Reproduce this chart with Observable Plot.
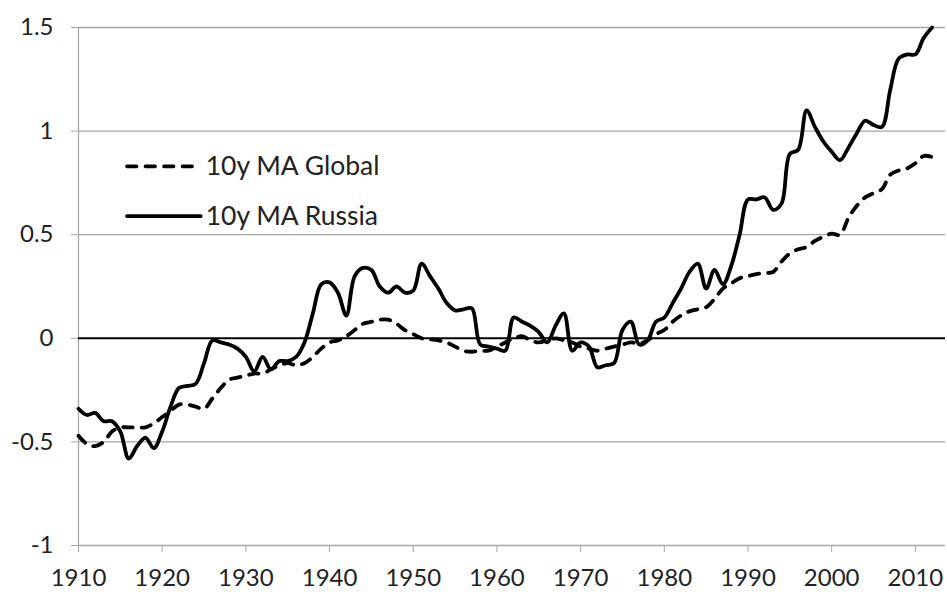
<!DOCTYPE html>
<html>
<head>
<meta charset="utf-8">
<script src="https://cdn.jsdelivr.net/npm/d3@7"></script>
<script src="https://cdn.jsdelivr.net/npm/@observablehq/plot@0.6"></script>
<style>
  html, body { margin: 0; padding: 0; background: #fff; }
  #chart { width: 947px; height: 592px; }
  #chart svg text { font-family: Lato, 'Open Sans', sans-serif; }
</style>
</head>
<body>
<div id="chart"></div>
<script>
// ---- data ----
const firstYear = 1910;
const lastYear = 2012;

const globalMA = [
  -0.47, -0.51, -0.52, -0.50, -0.45, -0.43, -0.43, -0.43, -0.43, -0.41, // 1910-1919
  -0.38, -0.35, -0.32, -0.32, -0.33, -0.34, -0.29, -0.24, -0.20, -0.19, // 1920-1929
  -0.18, -0.17, -0.17, -0.15, -0.13, -0.12, -0.13, -0.12, -0.09, -0.05, // 1930-1939
  -0.02, -0.01, 0.01, 0.04, 0.07, 0.08, 0.09, 0.09, 0.07, 0.04,         // 1940-1949
  0.02, 0.00, -0.005, -0.01, -0.02, -0.04, -0.06, -0.065, -0.06, -0.06, // 1950-1959
  -0.04, -0.02, 0.00, 0.01, -0.01, -0.02, -0.01, 0.00, -0.01, -0.02,    // 1960-1969
  -0.04, -0.05, -0.06, -0.05, -0.04, -0.03, -0.02, -0.025, -0.01, 0.02, // 1970-1979
  0.04, 0.08, 0.11, 0.13, 0.14, 0.15, 0.19, 0.24, 0.265, 0.29,          // 1980-1989
  0.30, 0.31, 0.315, 0.32, 0.37, 0.41, 0.43, 0.44, 0.47, 0.49,          // 1990-1999
  0.505, 0.50, 0.58, 0.64, 0.68, 0.70, 0.72, 0.79, 0.81, 0.82,          // 2000-2009
  0.845, 0.88, 0.875                                                    // 2010-2012
];

const russiaMA = [
  -0.34, -0.37, -0.36, -0.40, -0.40, -0.45, -0.58, -0.52, -0.48, -0.53, // 1910-1919
  -0.45, -0.33, -0.24, -0.23, -0.22, -0.12, -0.01, -0.02, -0.03, -0.05, // 1920-1929
  -0.09, -0.16, -0.09, -0.15, -0.11, -0.11, -0.09, -0.02, 0.12, 0.26,   // 1930-1939
  0.27, 0.22, 0.11, 0.30, 0.34, 0.33, 0.25, 0.22, 0.25, 0.22,           // 1940-1949
  0.23, 0.36, 0.30, 0.24, 0.17, 0.135, 0.14, 0.145, -0.03, -0.04,       // 1950-1959
  -0.05, -0.06, 0.10, 0.08, 0.06, 0.03, -0.02, 0.06, 0.12, -0.06,       // 1960-1969
  -0.02, -0.04, -0.14, -0.13, -0.12, 0.04, 0.08, -0.03, -0.01, 0.08,    // 1970-1979
  0.10, 0.17, 0.24, 0.32, 0.36, 0.24, 0.33, 0.26, 0.35, 0.50,           // 1980-1989
  0.67, 0.67, 0.68, 0.62, 0.65, 0.89, 0.91, 1.10, 1.02, 0.95,           // 1990-1999
  0.90, 0.86, 0.92, 0.99, 1.05, 1.03, 1.02, 1.20, 1.35, 1.37,           // 2000-2009
  1.37, 1.45, 1.50                                                      // 2010-2012
];

const xTicks = [1910, 1920, 1930, 1940, 1950, 1960, 1970, 1980, 1990, 2000, 2010];
const yTicks = [-1, -0.5, 0, 0.5, 1, 1.5];
const seriesNames = ["10y MA Global", "10y MA Russia"];

// legend placement (data units)
const legendX = [1915.8, 1924.6, 1925.2];
const legendY = [0.83, 0.59];

// ---- build tables ----
const years = d3.range(firstYear, lastYear + 1);
const globalRows = years.map((yr, i) => ({year: yr, value: globalMA[i]}));
const russiaRows = years.map((yr, i) => ({year: yr, value: russiaMA[i]}));

const legendRows = seriesNames.map((name, i) => ({name, y: legendY[i]}));
const legendSegs = legendRows.flatMap(d => [
  {name: d.name, x: legendX[0], y: d.y},
  {name: d.name, x: legendX[1], y: d.y}
]);

const grey = "#a6a6a6";
const dash = "9.5,9";

const chart = Plot.plot({
  width: 947,
  height: 592,
  marginLeft: 78,
  marginRight: 2,
  marginTop: 27,
  marginBottom: 47,
  style: {fontFamily: "Lato, 'Open Sans', sans-serif", fontSize: "24px", color: "#222", background: "#fff"},
  x: {domain: [1910, 2013.6]},
  y: {domain: [-1, 1.5]},
  marks: [
    // horizontal gridlines (not zero)
    Plot.ruleY(yTicks.filter(v => v !== 0), {stroke: grey, strokeWidth: 1.3}),
    // vertical axis line
    Plot.ruleX([1910], {stroke: grey, strokeWidth: 1.3}),
    Plot.axisX({
      ticks: xTicks, tickFormat: d => String(d), tickSize: 7, tickPadding: 16,
      stroke: grey, fill: "#222", label: null, fontSize: 24
    }),
    Plot.axisY({
      ticks: yTicks, tickFormat: d => String(d), tickSize: 7, tickPadding: 18,
      stroke: grey, fill: "#222", label: null, fontSize: 24
    }),
    // zero line
    Plot.ruleY([0], {stroke: "#000", strokeWidth: 2}),
    // series
    Plot.line(globalRows, {
      x: "year", y: "value", stroke: "#000", strokeWidth: 3.8,
      strokeDasharray: dash, strokeLinecap: "round", curve: "catmull-rom"
    }),
    Plot.line(russiaRows, {
      x: "year", y: "value", stroke: "#000", strokeWidth: 3.8,
      strokeLinejoin: "round", curve: "catmull-rom"
    }),
    // legend
    Plot.line(legendSegs.filter(d => d.name === seriesNames[0]), {
      x: "x", y: "y", stroke: "#000", strokeWidth: 3.8, strokeDasharray: dash, strokeLinecap: "round"
    }),
    Plot.line(legendSegs.filter(d => d.name === seriesNames[1]), {
      x: "x", y: "y", stroke: "#000", strokeWidth: 3.8
    }),
    Plot.text(legendRows, {
      x: () => legendX[2], y: "y", text: "name", textAnchor: "start",
      fontSize: 26.5, fill: "#222"
    })
  ]
});

document.getElementById("chart").appendChild(chart);
</script>
</body>
</html>
